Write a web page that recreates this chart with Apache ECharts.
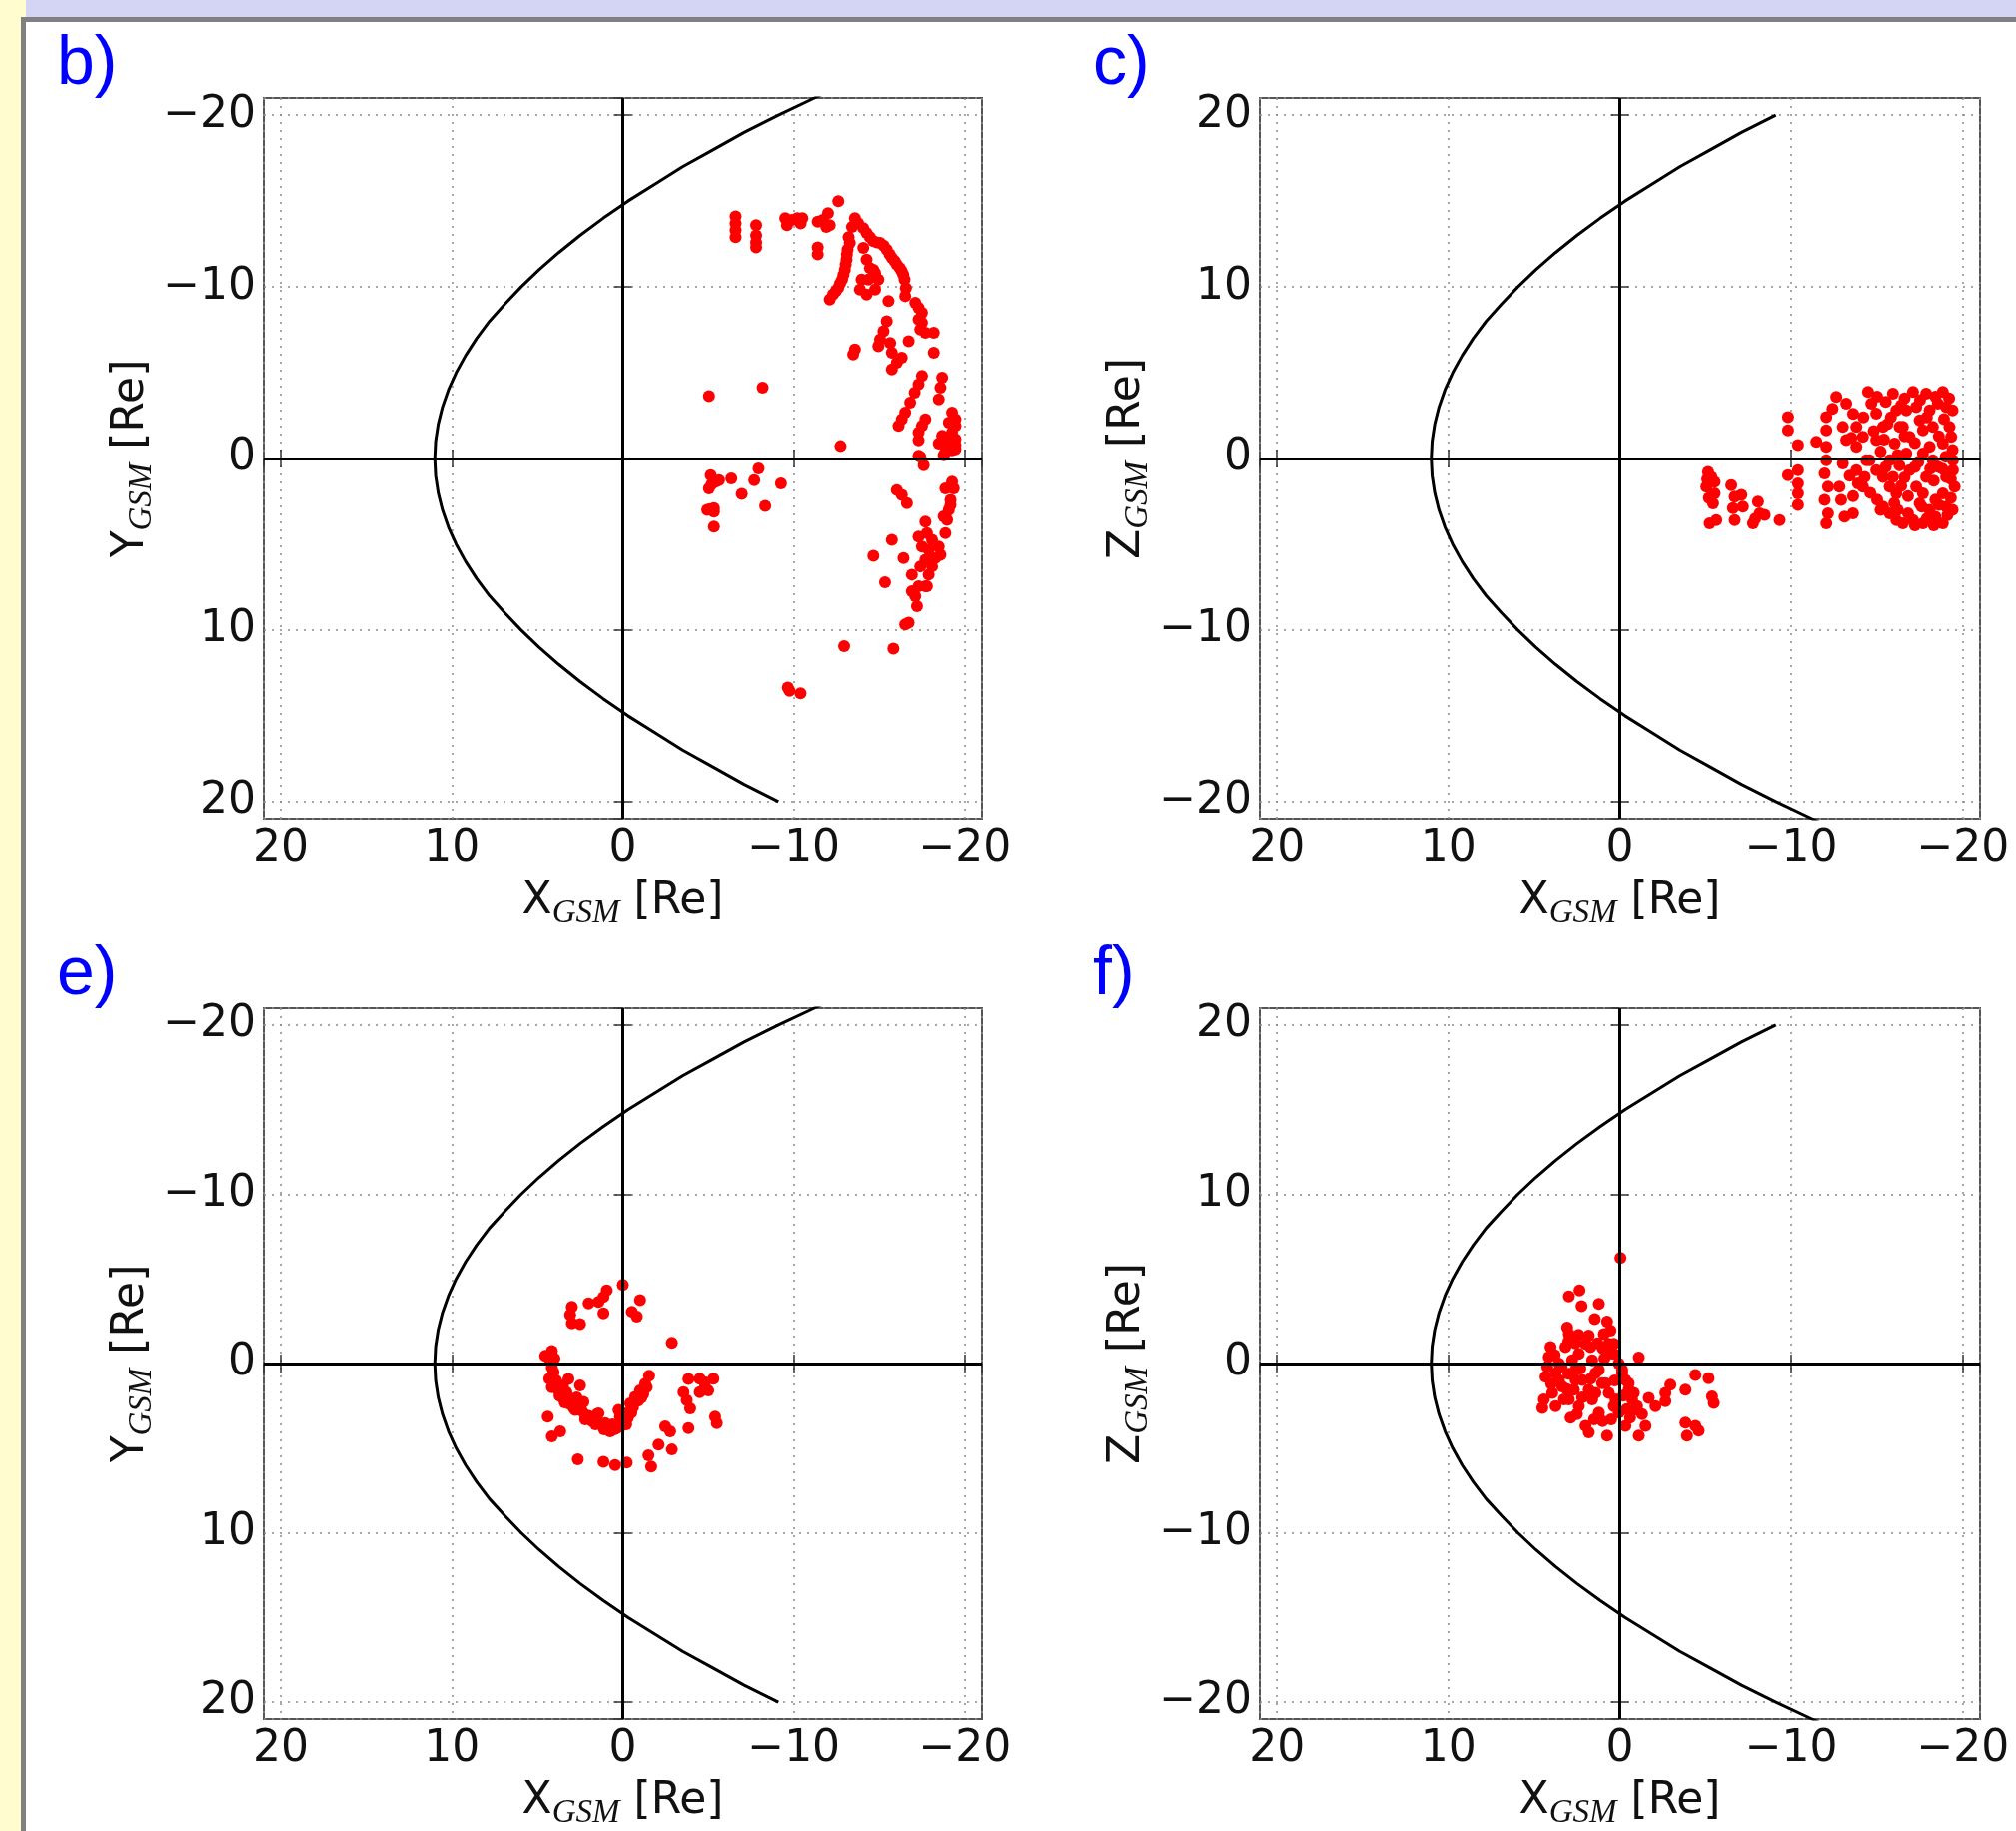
<!DOCTYPE html>
<html><head><meta charset="utf-8">
<script src="https://cdn.jsdelivr.net/npm/echarts@6/dist/echarts.min.js"></script>
<style>html,body{margin:0;padding:0;background:#fff;} #c{width:2018px;height:1833px;}</style>
</head><body><div id="c"></div>
<script>
// Boundary model curve: coordinate (Y or Z) and matching X
const curveCoord = [-22,-21,-20,-19,-18,-17,-16,-15,-14,-13,-12,-11,-10,-9,-8,-7,-6,-5,-4,-3,-2,-1,0,1,2,3,4,5,6,7,8,9,10,11,12,13,14,15,16,17,18,19,20];
const curveX = [-13.3,-11.2,-9.1,-7.1,-5.3,-3.5,-1.9,-0.3,1.15,2.5,3.75,4.9,5.95,6.9,7.8,8.55,9.2,9.75,10.2,10.55,10.8,10.95,11.0,10.95,10.8,10.55,10.2,9.75,9.2,8.55,7.8,6.9,5.95,4.9,3.75,2.5,1.15,-0.3,-1.9,-3.5,-5.3,-7.1,-9.1];

// Panel b) : [X_GSM, Y_GSM]
const panelB = [
[-6.6,-14.1],[-6.6,-13.7],[-6.6,-13.3],[-6.6,-12.9],
[-7.8,-13.6],[-7.8,-13.0],[-7.8,-12.6],[-7.8,-12.3],
[-9.5,-14.0],[-9.6,-13.6],[-9.9,-13.9],[-10.2,-14.0],[-10.4,-13.7],[-10.5,-14.0],
[-11.4,-13.8],[-11.7,-13.9],[-12.0,-14.3],[-12.1,-13.6],[-11.9,-13.5],
[-12.6,-15.0],[-11.4,-12.3],[-11.4,-11.9],
[-12.1,-9.26],[-12.29,-9.55],[-12.59,-9.94],[-12.82,-10.43],[-12.98,-11.0],[-13.08,-11.59],[-13.14,-12.17],[-13.27,-12.56],
[-12.45,-9.75],[-12.7,-10.2],[-12.9,-10.7],[-13.03,-11.3],[-13.1,-11.9],[-13.2,-12.9],[-13.4,-13.5],
[-13.57,-14.01],[-13.76,-13.72],[-14.06,-13.43],[-14.25,-13.14],
[-14.65,-12.66],[-15.04,-12.56],[-15.43,-12.17],[-15.73,-11.69],[-16.02,-11.3],[-16.31,-10.91],[-16.47,-10.43],[-16.55,-9.94],[-16.51,-9.46],
[-14.45,-12.9],[-14.85,-12.6],[-15.25,-12.4],[-15.6,-11.9],[-15.9,-11.5],[-16.2,-11.1],[-16.4,-10.7],
[-14.06,-12.27],[-14.25,-11.59],[-14.45,-11.1],[-13.96,-10.43],[-13.86,-9.84],[-14.25,-9.55],[-14.75,-10.81],[-14.75,-9.84],[-14.94,-10.43],[-14.35,-10.43],[-14.65,-11.0],
[-15.53,-9.17],
[-15.43,-8.0],[-15.24,-7.42],[-15.04,-6.94],[-14.94,-6.55],
[-13.57,-6.36],[-13.47,-6.07],
[-15.63,-6.74],[-15.73,-6.16],
[-16.31,-5.87],[-16.02,-5.58],[-15.73,-5.19],
[-16.71,-6.84],
[-17.1,-9.07],[-17.29,-8.78],[-17.49,-8.49],[-17.49,-7.91],[-17.39,-7.52],[-17.69,-7.33],[-18.18,-7.33],[-17.29,-8.1],
[-18.18,-6.16],
[-17.49,-4.81],[-17.29,-4.32],[-17.06,-3.84],[-16.8,-3.26],
[-18.67,-4.71],[-18.57,-4.13],[-18.47,-3.45],
[-16.51,-2.67],[-16.31,-2.29],[-16.12,-1.9],
[-17.29,-1.51],[-17.49,-1.9],[-17.69,-2.29],
[-19.25,-2.67],[-19.45,-2.29],[-19.06,-2.09],[-19.45,-1.9],[-19.25,-1.51],[-18.67,-1.32],[-19.45,-1.12],[-19.06,-0.74],[-18.86,-0.35],[-19.45,-0.54],
[-5.04,-3.64],[-8.18,-4.13],[-17.29,-0.16],
[-17.29,-1.06],[-18.47,-0.87],[-18.86,-0.68],[-19.25,-0.48],[-19.06,-1.06],[-18.76,-0.19],[-19.45,-0.77],
[-17.39,-0.1],[-17.59,0.39],
[-12.73,-0.72],
[-5.14,0.97],[-5.43,1.35],[-5.04,1.74],[-5.63,1.26],[-4.94,3.0],[-5.33,2.9],[-5.33,3.1],[-5.33,3.97],[-6.35,1.16],[-6.96,2.07],[-7.69,1.26],[-7.94,0.58],[-8.33,2.77],[-9.25,1.45],[-5.2,1.5],[-5.1,2.95],
[-16.02,1.84],[-16.31,2.13],[-16.61,2.61],
[-19.25,1.35],[-18.86,1.74],[-19.35,1.74],[-19.16,2.42],[-19.06,3.0],[-18.96,3.58],[-18.86,4.35],[-18.76,3.38],[-19.16,2.71],
[-17.69,3.68],[-17.29,4.55],[-17.49,5.13],[-17.88,5.32],[-18.47,5.13],[-18.57,5.61],[-18.08,4.74],[-17.78,4.35],[-18.27,5.8],
[-15.73,4.74],[-14.65,5.67],[-16.41,5.8],[-15.33,7.21],
[-17.69,5.9],[-18.08,6.29],[-17.88,6.77],[-16.9,6.77],[-17.29,7.45],[-17.69,7.45],[-17.1,8.03],[-17.2,8.61],[-16.9,7.74],[-17.78,7.45],[-17.39,6.29],[-17.98,5.71],
[-16.71,9.57],[-16.51,9.67],
[-12.94,10.93],[-15.82,11.08],
[-9.65,13.35],[-9.75,13.54],[-10.39,13.68]
];

// Panel c) : [X_GSM, Z_GSM]
const panelC = [
[-5.15,-0.78],[-5.34,-1.07],[-5.53,-1.36],[-5.05,-1.65],[-5.53,-2.03],[-5.44,-2.62],[-5.24,-3.78],[-5.63,-3.59],[-5.2,-2.3],[-5.1,-1.2],
[-6.5,-1.55],[-6.7,-2.23],[-6.7,-3.59],[-7.09,-2.13],[-7.18,-2.81],[-7.77,-3.78],[-8.06,-2.52],[-8.16,-3.2],[-8.45,-3.29],[-9.32,-3.59],[-6.6,-2.9],[-7.9,-3.5],
[-9.81,2.42],[-9.81,1.65],[-10.39,0.78],[-9.81,-0.97],[-10.39,-0.68],[-10.39,-1.45],[-10.39,-2.03],[-10.39,-2.71],
[-11.46,0.97],[-12.04,2.42],[-12.04,1.65],[-12.04,0.68],[-12.04,-0.1],[-11.94,-0.87],[-12.14,-1.65],[-11.94,-2.42],[-12.14,-3.2],[-12.04,-3.78],
[-12.62,3.59],[-13.2,3.2],[-13.0,1.84],[-13.2,1.07],[-13.0,-0.29],[-12.8,-1.65],[-12.9,-2.42],[-13.1,-3.39],[-13.59,-3.2],
[-13.79,1.84],[-13.79,0.68],[-13.79,-0.68],[-13.88,-1.45],[-14.17,1.26],[-14.37,-0.1],[-14.27,-1.07],[-14.17,-1.65],
[-14.47,3.88],[-14.66,3.2],[-14.95,2.62],[-15.34,1.84],[-14.95,1.07],
[-15.34,-2.81],[-15.73,-3.2],[-16.12,-3.59],[-16.5,-3.78],
[-15.92,3.78],[-16.12,2.81],[-16.31,1.84],[-16.02,0.87],[-15.73,-0.1],[-15.92,-1.07],[-16.12,-2.03],
[-17.09,3.88],[-17.28,3.0],[-17.48,2.23],[-16.89,1.26],[-16.7,0.29],[-16.89,-0.68],[-17.28,-1.65],[-17.48,-2.62],[-17.09,-3.59],
[-17.86,3.78],[-18.06,2.81],[-17.67,1.65],[-18.06,0.68],[-18.25,-0.1],[-17.86,-1.07],[-17.67,-2.03],[-18.06,-3.0],[-17.67,-3.78],
[-18.83,3.88],[-19.03,3.0],[-19.22,1.84],[-18.83,0.87],[-19.42,-0.1],[-19.03,-1.07],[-18.83,-2.03],[-19.03,-2.81],[-18.83,-3.78],
[-18.54,3.2],[-18.25,1.84],[-16.7,2.81],[-14.56,-0.1],[-14.95,-0.68],[-15.34,-1.07],[-15.73,-1.65],[-16.5,1.84],[-17.67,0.29],[-18.54,-0.48],
[-19.32,1.26],[-19.42,-0.68],[-19.52,-1.65],
[-15.5,3.3],[-16.6,3.5],[-17.5,3.4],[-18.4,3.6],[-19.2,3.5],[-15.6,2.0],[-16.6,1.3],[-17.2,0.9],[-18.6,1.3],[-19.4,0.5],[-15.2,0.4],[-16.3,-0.4],[-17.2,-0.5],[-18.8,-0.6],
[-14.6,-2.0],[-16.0,-2.6],[-16.8,-2.2],[-18.4,-2.4],[-19.3,-2.3],[-16.8,-3.2],[-18.4,-3.4],[-19.1,-3.3],[-17.9,-3.5],[-15.2,-3.0],[-14.2,2.4],[-13.6,2.6],[-12.4,2.9],
[-15.0,3.6],[-15.8,2.4],[-16.4,3.1],[-17.9,2.4],[-18.9,2.3],[-19.4,2.8],[-15.4,1.1],[-16.2,0.2],[-17.4,-0.2],[-18.1,-0.6],[-19.0,0.1],[-15.5,-0.5],[-16.6,-1.1],[-18.3,-1.3],
[-19.3,-1.2],[-15.0,-2.4],[-16.4,-1.6],[-17.6,-2.8],[-18.6,-2.7],[-19.4,-3.0],[-16.2,-3.0],[-17.2,-3.9],[-18.3,-3.9],[-14.8,1.6],[-13.5,1.2],[-13.4,-1.0],[-13.6,-2.2]
];

// Panel e) : [X_GSM, Y_GSM]
const panelE = [
[0,-4.65],[0.94,-4.32],[1.13,-3.93],[1.42,-3.64],[2.0,-3.55],[1.13,-2.97],[2.98,-3.35],[3.08,-2.87],[2.98,-2.38],[2.5,-2.33],[-1.01,-3.74],[-0.53,-3.06],[-0.82,-2.77],[-2.87,-1.22],
[4.15,-0.74],[4.54,-0.45],[4.25,-0.16],[4.15,0.23],[4.05,0.52],[3.18,0.91],[2.5,1.3],[4.15,1.4],[3.76,1.59],[3.57,1.98],[3.18,2.36],[2.79,2.75],[2.3,2.27],[2.2,3.04],[1.62,3.24],[1.42,2.95],[1.03,3.53],[0.74,4.01],[0.35,3.82],[0.16,3.14],[0.25,2.75],[-0.14,2.95],[-0.43,2.36],[-0.72,1.98],[-1.01,1.59],[-1.31,1.2],[-1.54,0.72],
[4.39,3.14],[4.15,4.3],[3.66,4.01],[2.63,5.66],[1.13,5.81],[0.45,6.0],[-0.23,5.85],[-1.5,5.43],[-1.66,6.09],[-2.09,4.79],[-2.48,3.72],[-2.77,4.01],[-2.87,5.08],[-3.84,3.82],[-3.55,1.69],[-3.74,2.17],[-3.94,2.66],[-3.84,0.91],[-4.5,0.9],[-4.8,1.4],[-4.5,1.7],[-5.0,1.6],[-5.3,0.9],[-4.8,1.1],[-5.4,3.14],[-5.5,3.53],
[3.9,1.0],[3.5,1.3],[3.3,1.7],[3.0,2.1],[2.6,2.5],[2.4,2.8],[2.0,3.1],[1.8,3.4],[1.3,3.6],[0.9,3.8],[0.5,3.9],[0.1,3.7],[-0.1,3.4],[-0.3,3.2],[-0.6,2.6],[-0.9,2.2],[-1.2,1.8],[-1.4,1.4],[0.6,3.6],[1.5,3.0],[2.7,2.0],
[3.7,1.9],[3.4,2.3],[2.9,2.6],[2.2,3.3],[1.6,3.6],[1.1,3.9],[-0.2,3.6],[-0.5,2.9],[-1.1,2.0],[4.3,0.9],[4.0,-0.3]
];

// Panel f) : [X_GSM, Z_GSM]
const panelF = [
[-0.04,6.24],[2.97,3.97],[2.35,4.32],[2.23,3.39],[1.22,3.53],[1.46,2.62],[0.74,2.48],[3.07,2.13],[2.97,1.74],[3.17,0.97],[1.81,1.65],[1.71,0.97],[0.54,1.94],[0.35,1.16],[0.64,0.58],[4.04,0.97],[4.14,0.39],[4.23,-0.19],[4.33,-0.78],[3.75,-0.58],[3.55,0],[2.78,0.19],[2.39,0.58],
[4.43,-2.13],[4.52,-2.62],[3.94,-1.74],[3.36,-1.36],[2.58,-0.97],[2.68,-1.55],[2.97,-2.13],[2.87,-3.2],[2.39,-2.52],[2.0,-3.68],[1.81,-4.07],[1.22,-2.91],[1.61,-2.13],[1.42,-0.58],[1.03,-1.16],[0.74,-4.26],[0.25,-2.13],[0.06,-2.91],[-0.14,-0.58],[-0.33,-3.68],[-0.52,-1.16],[-0.82,-1.74],[-1.01,-2.52],[-1.11,0.35],[-1.11,-4.26],[-1.5,-3.68],[-1.69,-2.03],[-2.08,-2.52],[-2.66,-2.23],[-2.95,-1.26],[-2.66,-1.74],[-3.83,-1.55],[-4.41,-0.68],[-5.18,-0.87],[-5.38,-1.94],[-5.48,-2.33],[-3.83,-3.49],[-3.92,-4.26],[-4.41,-3.68],[-4.6,-3.97],
[0.93,1.74],[0.64,1.16],[0.35,0.58],[0.06,0],[-0.14,-0.39],[-0.33,-0.97],[-0.52,-1.55],[-0.72,-2.13],[-0.91,-2.71],
[2.0,1.16],[1.61,0.19],[1.22,-0.39],[0.83,-1.16],[0.64,-1.74],[0.35,-2.52],
[2.58,-0.39],[2.19,-0.97],[1.81,-1.55],[1.42,-1.74],[3.55,-0.97],[3.26,-2.13],[3.75,-2.52],
[3.8,0.5],[3.4,-0.2],[2.2,-2.0],[1.0,-3.4],[0.5,-3.3],[-0.4,-2.7],[-1.3,-3.0],[4.0,-1.2],[3.0,-0.6],[2.6,1.2],[1.0,0.9],
[3.0,1.3],[2.4,1.7],[1.3,1.2],[0.9,0.3],[0.3,-1.0],[-0.2,-1.9],[2.3,-0.3],[1.7,-0.9],[3.1,-1.5],[2.5,-3.0],[1.5,-3.3],[-0.6,-3.2]
];

const panelLetters = ['b)', 'c)', 'e)', 'f)'];
const yNames = ['Y', 'Z', 'Y', 'Z'];
const panelData = [panelB, panelC, panelE, panelF];
const yInverse = [true, false, true, false];

const gridBoxes = [
  {left: 264, top: 98, width: 719, height: 722},
  {left: 1261, top: 98, width: 721, height: 722},
  {left: 264, top: 1009, width: 719, height: 722},
  {left: 1261, top: 1009, width: 721, height: 722}
];
const letterPos = [[57, 31], [1094, 31], [57, 942], [1094, 942]];

const minus = v => String(v).replace('-', '\u2212');
const nameRich = {
  m: {fontFamily: 'DejaVu Sans', fontSize: 44, color: '#111', lineHeight: 56, verticalAlign: 'middle'},
  s: {fontFamily: 'Liberation Serif', fontStyle: 'italic', fontSize: 33, color: '#111', lineHeight: 33, verticalAlign: 'bottom'}
};
const tickStyle = {show: true, inside: true, length: 9, lineStyle: {color: '#333', width: 1.5}};
const gridLineStyle = {show: true, lineStyle: {color: '#8a8a8a', width: 1.5, type: [2, 6]}};
const labelStyle = {fontFamily: 'DejaVu Sans', fontSize: 44, color: '#111', showMinLabel: false, showMaxLabel: false, formatter: minus};

const grids = [], xAxes = [], yAxes = [], series = [];
for (let i = 0; i < 4; i++) {
  grids.push(Object.assign({show: true, borderColor: '#555', borderWidth: 2, backgroundColor: 'transparent'}, gridBoxes[i]));
  const base = {type: 'value', gridIndex: i, min: -21, max: 21, splitNumber: 4, axisLine: {show: false}};
  xAxes.push(Object.assign({}, base, {
    inverse: true, position: 'bottom', axisTick: tickStyle,
    axisLabel: Object.assign({margin: 9}, labelStyle), splitLine: gridLineStyle,
    name: '{m|X}{s|GSM}{m| [Re]}', nameLocation: 'middle', nameGap: 55,
    nameTextStyle: {rich: nameRich}
  }));
  xAxes.push(Object.assign({}, base, {
    inverse: true, position: 'top', axisTick: tickStyle, axisLabel: {show: false}, splitLine: {show: false}
  }));
  yAxes.push(Object.assign({}, base, {
    inverse: yInverse[i], position: 'left', axisTick: tickStyle,
    axisLabel: Object.assign({margin: 8}, labelStyle), splitLine: gridLineStyle,
    name: '{m|' + yNames[i] + '}{s|GSM}{m| [Re]}', nameLocation: 'middle', nameGap: 96, nameRotate: 90,
    nameTextStyle: {rich: nameRich}
  }));
  yAxes.push(Object.assign({}, base, {
    inverse: yInverse[i], position: 'right', axisTick: tickStyle, axisLabel: {show: false}, splitLine: {show: false}
  }));
  series.push({
    type: 'scatter', xAxisIndex: 2 * i, yAxisIndex: 2 * i, z: 2,
    symbol: 'circle', symbolSize: 12, itemStyle: {color: '#ff0000', opacity: 1},
    data: panelData[i], silent: true
  });
  series.push({
    type: 'line', xAxisIndex: 2 * i, yAxisIndex: 2 * i, z: 3,
    showSymbol: false, symbol: 'none', clip: true,
    lineStyle: {color: '#000', width: 3},
    data: curveCoord.map((c, k) => [curveX[k], c]),
    markLine: {
      silent: true, symbol: ['none', 'none'], label: {show: false},
      lineStyle: {color: '#000', width: 3, type: 'solid'},
      data: [{xAxis: 0}, {yAxis: 0}]
    }
  });
}

const graphics = [
  {type: 'rect', shape: {x: 0, y: 0, width: 26, height: 1833}, style: {fill: '#fffcd0'}, z: -10},
  {type: 'rect', shape: {x: 26, y: 0, width: 1992, height: 17}, style: {fill: '#d4d4f4'}, z: -10},
  {type: 'rect', shape: {x: 21, y: 17, width: 1997, height: 5}, style: {fill: '#808080'}, z: -9},
  {type: 'rect', shape: {x: 21, y: 17, width: 5, height: 1816}, style: {fill: '#808080'}, z: -9}
];
panelLetters.forEach((t, i) => {
  graphics.push({type: 'text', left: letterPos[i][0], top: letterPos[i][1],
    style: {text: t, fill: '#0000ff', font: '68px "Liberation Sans"'}});
});

const chart = echarts.init(document.getElementById('c'));
chart.setOption({
  animation: false,
  backgroundColor: '#ffffff',
  grid: grids, xAxis: xAxes, yAxis: yAxes, series: series, graphic: graphics
});
</script></body></html>
